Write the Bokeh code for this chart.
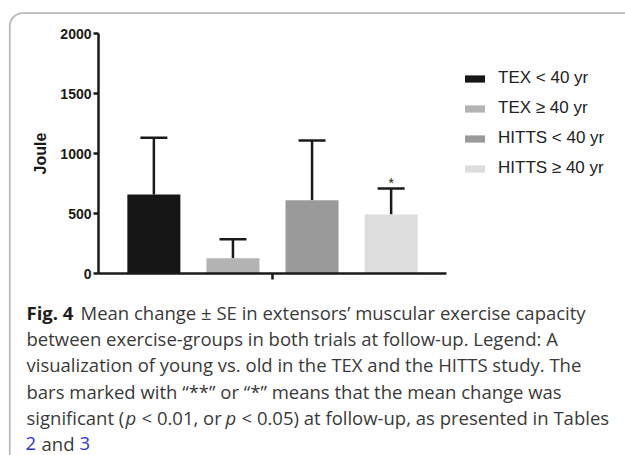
from bokeh.plotting import figure
from bokeh.models import (ColumnDataSource, Range1d, FixedTicker, Whisker, TeeHead,
                          Legend, LegendItem, Label, BoxAnnotation)
from bokeh.core.properties import value
from bokeh.embed import file_html
from bokeh.resources import INLINE

# ---- data ----
groups = ["TEX < 40 yr", "TEX \u2265 40 yr", "HITTS < 40 yr", "HITTS \u2265 40 yr"]
mean_change = [658, 128, 611, 492]
se = [473, 158, 497, 216]
sig = ["", "", "", "*"]
colors = ["#161616", "#b3b3b3", "#9a9a9a", "#dddddd"]
y_ticks = [0, 500, 1000, 1500, 2000]
y_label = "Joule"

TXT = "#3a3a3a"
caption_lines = [
    [("Fig. 4", "bold", "#1e1e1e", 26),
     ("Mean change \u00b1 SE in extensors\u2019 muscular exercise capacity", "normal", TXT, 80)],
    [("between exercise-groups in both trials at follow-up. Legend: A", "normal", TXT, 26)],
    [("visualization of young vs. old in the TEX and the HITTS study. The", "normal", TXT, 26)],
    [("bars marked with \u201c**\u201d or \u201c*\u201d means that the mean change was", "normal", TXT, 26)],
    [("significant (", "normal", TXT, 26),
     ("p", "italic", TXT, 125),
     ("< 0.01, or", "normal", TXT, 141),
     ("p", "italic", TXT, 225),
     ("< 0.05) at follow-up, as presented in Tables", "normal", TXT, 241)],
    [("2", "normal", "#3035d0", 25),
     ("and", "normal", TXT, 41),
     ("3", "normal", "#3035d0", 79)],
]

x = [i + 0.5 for i in range(len(groups))]
upper = [m + s for m, s in zip(mean_change, se)]
src = ColumnDataSource(dict(x=x, mean=mean_change, upper=upper, color=colors,
                            group=groups, sig=sig))

W, H = 625, 455
# plot area in pixels: x 98..446 <-> -0.2..4.2 ; y 273..33 <-> 0..2000
X0, X1 = -0.2, 4.2
PX0, PX1 = 98, 446
PY0, PY1 = 273, 33
xs = (X1 - X0) / (PX1 - PX0)
ys = 2000 / (PY0 - PY1)
x_range = Range1d(X0 - PX0 * xs, X0 + (W - PX0) * xs)
y_range = Range1d(-(H - PY0) * ys, PY0 * ys)

p = figure(width=W, height=H, output_backend="svg", toolbar_location=None,
           x_range=x_range, y_range=y_range, min_border=0)
p.outline_line_color = None
p.xgrid.visible = False
p.ygrid.visible = False
p.background_fill_color = "white"
p.border_fill_color = "white"

bars = p.vbar(x="x", top="mean", bottom=0, width=0.67, source=src,
              fill_color="color", line_color=None)

p.add_layout(Whisker(source=src, base="x", upper="upper", lower="mean",
                     dimension="height", line_width=2.5, line_color="#1a1a1a",
                     upper_head=TeeHead(size=27, line_width=2.5, line_color="#1a1a1a"),
                     lower_head=None))

p.text(x="x", y="upper", text="sig", source=src, text_align="center",
       text_baseline="alphabetic", y_offset=-6, text_font=value("Liberation Sans"),
       text_font_size="14px", text_color="#222222")

# axes (drawn at fixed locations inside the canvas)
yax = p.yaxis[0]
yax.fixed_location = X0
yax.bounds = (0, 2000)
yax.ticker = FixedTicker(ticks=y_ticks)
yax.axis_line_width = 2.5
yax.axis_line_color = "#1a1a1a"
yax.major_tick_line_width = 2.5
yax.major_tick_line_color = "#1a1a1a"
yax.major_tick_out = 5
yax.major_tick_in = 0
yax.minor_tick_line_color = None
yax.major_label_text_font = "Liberation Sans"
yax.major_label_text_font_style = "bold"
yax.major_label_text_font_size = "14px"
yax.major_label_text_color = "#1a1a1a"
yax.major_label_standoff = 2
yax.axis_label = y_label
yax.axis_label_text_font = "Liberation Sans"
yax.axis_label_text_font_style = "bold"
yax.axis_label_text_font_size = "16px"
yax.axis_label_text_color = "#1a1a1a"
yax.axis_label_standoff = 8

xax = p.xaxis[0]
xax.fixed_location = 0
xax.bounds = (X0, X1)
xax.ticker = FixedTicker(ticks=[(X0 + X1) / 2])
xax.axis_line_width = 2.5
xax.axis_line_color = "#1a1a1a"
xax.major_tick_line_width = 2.5
xax.major_tick_line_color = "#1a1a1a"
xax.major_tick_out = 6
xax.major_tick_in = 0
xax.minor_tick_line_color = None
xax.major_label_overrides = {(X0 + X1) / 2: ""}

# legend
items = [LegendItem(label=g, renderers=[bars], index=i) for i, g in enumerate(groups)]
legend = Legend(items=items, location=(462, H - 178), orientation="vertical",
                glyph_width=25, glyph_height=9, label_height=20, spacing=10,
                label_standoff=11, padding=0, margin=0,
                border_line_color=None, background_fill_alpha=0,
                label_text_font="Liberation Sans", label_text_font_size="17px",
                label_text_color="#222222")
p.add_layout(legend, "center")

# card border
p.add_layout(BoxAnnotation(left=9.3, right=W + 60, top=H - 12.7, bottom=-80,
                           left_units="screen", right_units="screen",
                           top_units="screen", bottom_units="screen",
                           fill_alpha=0, line_color="#1a1a1a", line_width=1.8,
                           border_radius=13))

# caption
for li, runs in enumerate(caption_lines):
    base_iy = 312 + 26.2 * li
    for text, style, color, ix in runs:
        p.add_layout(Label(x=ix, y=H - base_iy, x_units="screen", y_units="screen",
                           text=text, text_font="Open Sans", text_font_size="18.5px",
                           text_font_style=style, text_color=color,
                           text_baseline="alphabetic", text_align="left"))

open("out.html", "w").write(file_html(p, INLINE))
